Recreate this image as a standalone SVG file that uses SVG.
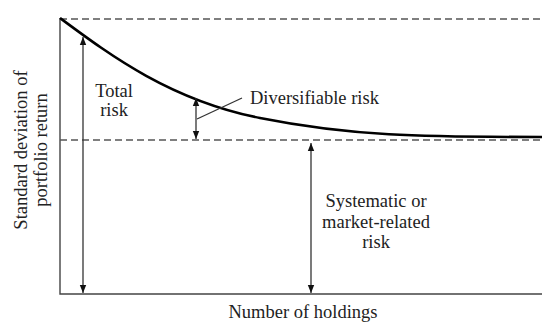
<svg xmlns="http://www.w3.org/2000/svg" width="542" height="323" viewBox="0 0 542 323">
<defs>
<style>
.t{font-family:"Liberation Serif","Times New Roman",serif;font-size:18.5px;fill:#222}
.axis{stroke:#444;stroke-width:1.4;fill:none}
.dash{stroke:#555;stroke-width:1.4;stroke-dasharray:7 4;fill:none}
.arr{stroke:#333;stroke-width:1.3;fill:none;marker-start:url(#ah);marker-end:url(#ah)}
</style>
<marker id="ah" viewBox="0 0 10 10" refX="10" refY="5" markerWidth="8" markerHeight="8" markerUnits="userSpaceOnUse" orient="auto-start-reverse">
<path d="M0,1 L10,5 L0,9 Z" fill="#111"/>
</marker>
</defs>
<rect width="542" height="323" fill="#fff"/>
<g id="axes">
<path class="axis" d="M60,18 V294 H542"/>
<path class="dash" d="M60,19 H542"/>
<path class="dash" d="M60,140 H542"/>
</g>
<g id="curve">
<path d="M60,18 C110,55 170,100 260,118 S420,137 542,137" stroke="#000" stroke-width="2.6" fill="none"/>
</g>
<g id="connectors">
<line class="arr" x1="83" y1="37" x2="83" y2="293"/>
<line class="arr" x1="196" y1="98" x2="196" y2="139"/>
<line class="arr" x1="311" y1="143" x2="311" y2="293"/>
<line x1="197" y1="119" x2="242" y2="98" stroke="#333" stroke-width="1.3"/>
</g>
<g id="total-risk">
<text class="t" x="114" y="97" text-anchor="middle">Total</text>
<text class="t" x="114" y="116" text-anchor="middle">risk</text>
</g>
<g id="diversifiable-risk">
<text class="t" x="250" y="104">Diversifiable risk</text>
</g>
<g id="systematic-risk">
<text class="t" x="376" y="207" text-anchor="middle">Systematic or</text>
<text class="t" x="376" y="228" text-anchor="middle">market-related</text>
<text class="t" x="376" y="248" text-anchor="middle">risk</text>
</g>
<g id="x-label">
<text class="t" x="303" y="318" text-anchor="middle">Number of holdings</text>
</g>
<g id="y-label">
<text class="t" transform="translate(27,150) rotate(-90)" text-anchor="middle">Standard deviation of</text>
<text class="t" transform="translate(47,150) rotate(-90)" text-anchor="middle">portfolio return</text>
</g>
</svg>
